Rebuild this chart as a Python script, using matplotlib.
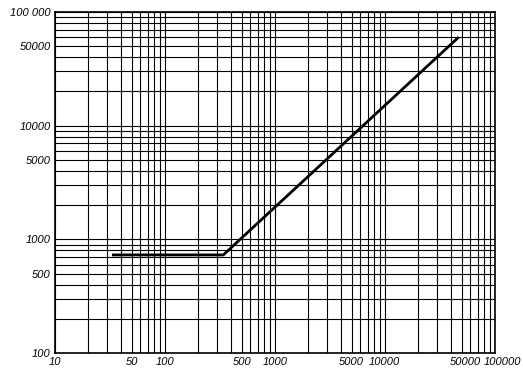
import matplotlib.pyplot as plt
import numpy as np
from matplotlib.ticker import FixedLocator, FixedFormatter, NullFormatter
from matplotlib.transforms import ScaledTranslation

# curve points
x_pts = [34, 340, 46000]
y_pts = [730, 730, 59000]

x_ticks = [10, 50, 100, 500, 1000, 5000, 10000, 50000, 100000]
x_labels = ["10", "50", "100", "500", "1000", "5000", "10000", "50000", "100000"]
y_ticks = [100, 500, 1000, 5000, 10000, 50000, 100000]
y_labels = ["100", "500", "1000", "5000", "10000", "50000", "100 000"]

plt.rcParams["font.family"] = ["Liberation Sans", "DejaVu Sans"]

fig = plt.figure(figsize=(5.23, 3.76), dpi=100)
ax = fig.add_axes([0.105, 0.061, 0.841, 0.907])
ax.set_xscale("log")
ax.set_yscale("log")
ax.set_xlim(10, 100000)
ax.set_ylim(100, 100000)

# full 1..9 grid in every decade
grid_x = [m * 10 ** d for d in range(1, 5) for m in range(1, 10)] + [100000]
grid_y = [m * 10 ** d for d in range(2, 5) for m in range(1, 10)] + [100000]
for gx in grid_x:
    ax.axvline(gx, color="black", lw=0.8, zorder=1)
for gy in grid_y:
    ax.axhline(gy, color="black", lw=0.8, zorder=1)

ax.plot(x_pts, y_pts, color="black", lw=2.0, zorder=3)

ax.xaxis.set_major_locator(FixedLocator(x_ticks))
ax.xaxis.set_major_formatter(FixedFormatter(x_labels))
ax.yaxis.set_major_locator(FixedLocator(y_ticks))
ax.yaxis.set_major_formatter(FixedFormatter(y_labels))
ax.xaxis.set_minor_formatter(NullFormatter())
ax.yaxis.set_minor_formatter(NullFormatter())
ax.tick_params(which="both", length=0, pad=3)
for lab in ax.get_xticklabels() + ax.get_yticklabels():
    lab.set_fontstyle("italic")
    lab.set_fontsize(8)

# the last two x labels sit a little to the right, as in the original
ticks = ax.xaxis.get_major_ticks()
for t, dx in [(ticks[-2], 4), (ticks[-1], 8)]:
    t.label1.set_transform(t.label1.get_transform()
                           + ScaledTranslation(dx / 100, 0, fig.dpi_scale_trans))

for sp in ax.spines.values():
    sp.set_linewidth(1.2)

fig.savefig("out.png", dpi=100)
